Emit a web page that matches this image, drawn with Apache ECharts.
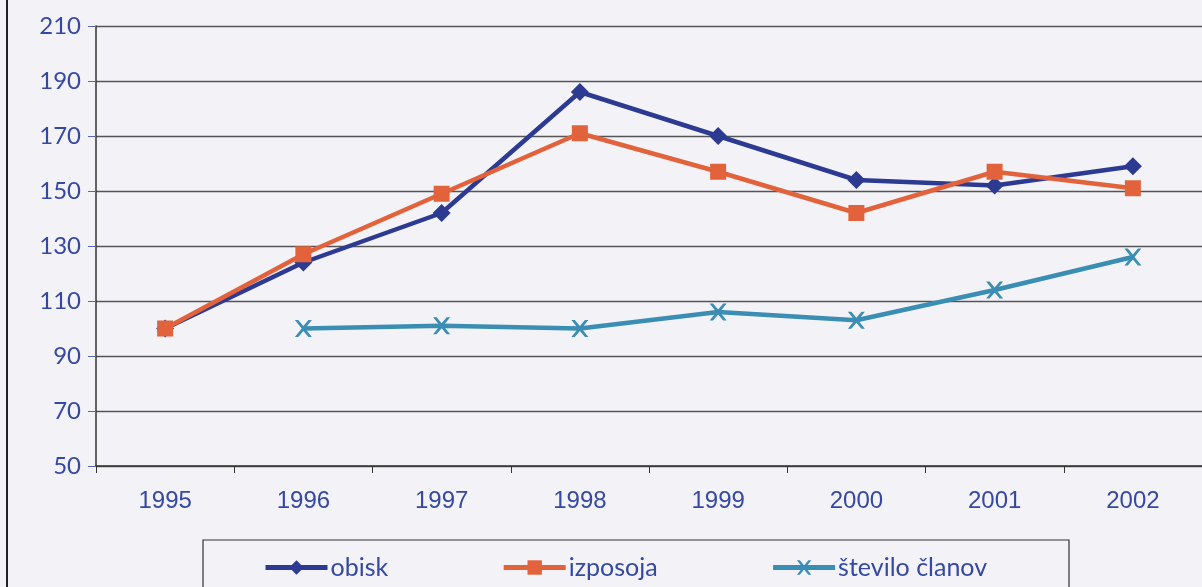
<!DOCTYPE html>
<html lang="sl">
<head>
  <meta charset="UTF-8">
  <title>obisk, izposoja, število članov</title>
  <script src="https://cdn.jsdelivr.net/npm/echarts@6/dist/echarts.min.js"></script>
  <style>
    body { margin: 0; background: #f3f2f7; }
    #chart { width: 1202px; height: 587px; }
  </style>
</head>
<body>
  <div id="chart"></div>
  <script>
    // podatki (indeks, 1995 = 100)
    const years = ['1995', '1996', '1997', '1998', '1999', '2000', '2001', '2002'];
    const obisk = [100, 124, 142, 186, 170, 154, 152, 159];
    const izposoja = [100, 127, 149, 171, 157, 142, 157, 151];
    const steviloClanov = ['-', 100, 101, 100, 106, 103, 114, 126];

    const textBlue = '#3548a3';
    const crossPath = 'path://M0,0 L2,0 L5,3.6 L8,0 L10,0 L6,5 L10,10 L8,10 L5,6.4 L2,10 L0,10 L4,5 Z';

    const chart = echarts.init(document.getElementById('chart'));
    chart.setOption({
      backgroundColor: '#f3f2f7',
      animation: false,
      grid: { left: 96, top: 26, width: 1109, height: 440 },
      legend: {
        left: 258,
        top: 550,
        itemWidth: 62,
        itemHeight: 18,
        itemGap: 113,
        lineStyle: { width: 5 },
        textStyle: { color: textBlue, fontSize: 25, fontFamily: 'Lato', padding: [0, 0, 0, -2] },
        data: ['obisk', 'izposoja', 'število članov']
      },
      graphic: [
        { type: 'rect', shape: { x: 203, y: 540, width: 866, height: 60 },
          style: { fill: 'none', stroke: '#333', lineWidth: 1.2 }, z: -1 },
        { type: 'line', shape: { x1: 7, y1: 0, x2: 7, y2: 587 },
          style: { stroke: '#222', lineWidth: 2 } }
      ],
      xAxis: {
        type: 'category',
        data: years,
        boundaryGap: true,
        axisLine: { lineStyle: { color: '#333', width: 1.5 } },
        axisTick: { show: true, length: 7, lineStyle: { color: '#333' } },
        axisLabel: { color: textBlue, fontSize: 24, fontFamily: 'Liberation Sans', margin: 23 }
      },
      yAxis: {
        type: 'value',
        min: 50,
        max: 210,
        interval: 20,
        axisLine: { show: true, lineStyle: { color: '#333', width: 1.5 } },
        axisTick: { show: true, length: 8, lineStyle: { color: '#5566b0' } },
        axisLabel: { color: textBlue, fontSize: 24, fontFamily: 'Lato', margin: 15 },
        splitLine: { lineStyle: { color: '#555', width: 1.3 } }
      },
      series: [
        {
          name: 'obisk', type: 'line', data: obisk,
          symbol: 'diamond', symbolSize: 18,
          itemStyle: { color: '#2c3a92' },
          lineStyle: { color: '#2c3a92', width: 4.5 },
          z: 3
        },
        {
          name: 'izposoja', type: 'line', data: izposoja,
          symbol: 'rect', symbolSize: 16,
          itemStyle: { color: '#e2623b' },
          lineStyle: { color: '#e2623b', width: 4.5 },
          z: 4
        },
        {
          name: 'število članov', type: 'line', data: steviloClanov,
          symbol: crossPath, symbolSize: 17,
          itemStyle: { color: '#3a8db3' },
          lineStyle: { color: '#3a8db3', width: 4.5 },
          z: 2
        }
      ]
    });
  </script>
</body>
</html>
